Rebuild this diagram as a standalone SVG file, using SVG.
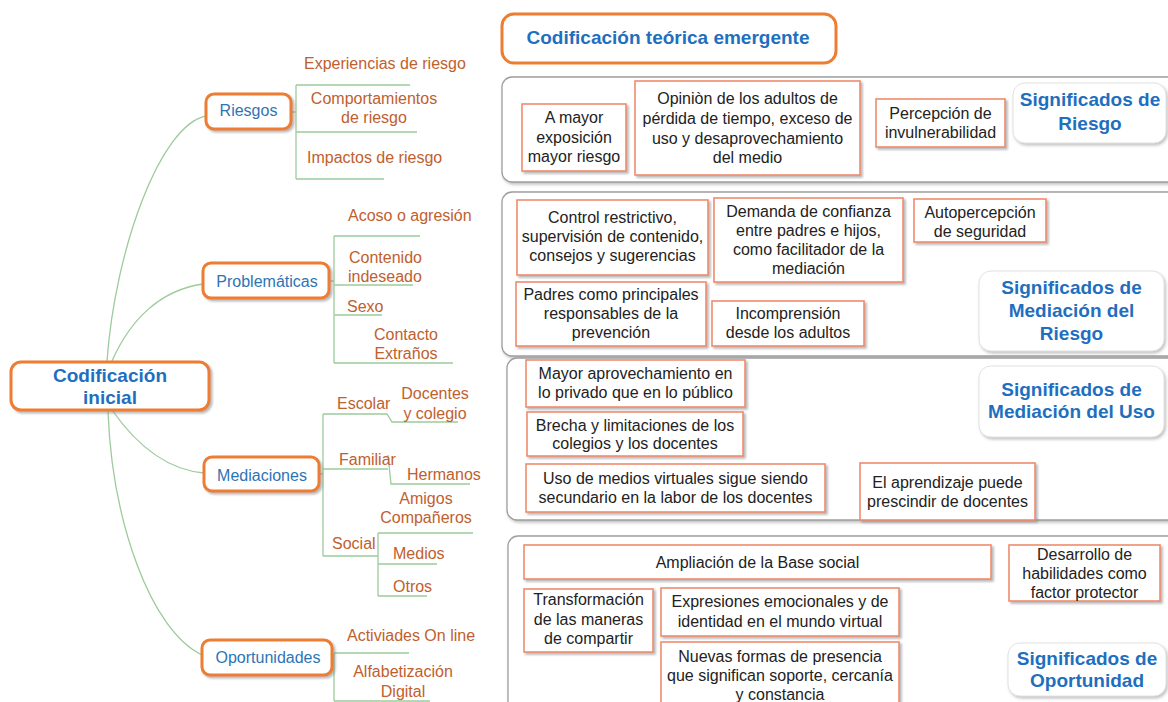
<svg xmlns="http://www.w3.org/2000/svg" width="1168" height="702" viewBox="0 0 1168 702">
<defs>
<filter id="sh" x="-10%" y="-10%" width="130%" height="140%">
<feDropShadow dx="2" dy="2" stdDeviation="1.2" flood-color="#808080" flood-opacity="0.55"/>
</filter>
<filter id="shs" x="-10%" y="-10%" width="130%" height="140%">
<feDropShadow dx="1.5" dy="2" stdDeviation="1.5" flood-color="#9a9a9a" flood-opacity="0.6"/>
</filter>
<style>
.node{fill:#fff;stroke:#ED7D31;stroke-width:3;}
.nlabel{font-family:"Liberation Sans",Arial,sans-serif;font-size:16px;fill:#2E74B5;text-anchor:middle;}
.big{font-family:"Liberation Sans",Arial,sans-serif;font-size:19px;font-weight:bold;fill:#1F6FBF;text-anchor:middle;}
.sub{font-family:"Liberation Sans",Arial,sans-serif;font-size:16px;fill:#C0602E;}
.mid{text-anchor:middle;}
.conn{fill:none;stroke:#9CCB9C;stroke-width:1.3;}
.panel{fill:#fff;stroke:#9E9E9E;stroke-width:1.3;}
.box{fill:#fff;stroke:#F08C6E;stroke-width:1.6;}
.head{fill:#fff;stroke:#E2E2E2;stroke-width:1;}
.t{font-family:"Liberation Sans",Arial,sans-serif;font-size:16px;fill:#222;text-anchor:middle;}
</style>
</defs>
<rect width="1168" height="702" fill="#fff"/>

<g id="connectors">
<path class="conn" d="M107,361 C115,250 160,125 206,116"/>
<path class="conn" d="M112,361 C130,320 160,290 203,284"/>
<path class="conn" d="M112,410 C140,450 170,470 204,473"/>
<path class="conn" d="M108,411 C112,520 150,630 202,655"/>
<path class="conn" d="M292,112 L296,112 M296,85 L296,179 M296,85 L410,85 M296,132 L417,132 M296,179 L384,179"/>
<path class="conn" d="M330,281 L334,281 M334,236 L334,363 M334,236 L420,236 M334,285 L413,285 M334,315 L382,315 M334,363 L453,363"/>
<path class="conn" d="M320,474 L323,474 M323,414 L323,556 M323,414 L387,414 L392,422 L458,422 M323,469 L388,469 M388,455 L391,484 L470,484 M323,556 L378,556 M378,533 L378,596 M378,533 L473,533 M378,564 L437,564 M378,596 L427,596"/>
<path class="conn" d="M332,657 L334,657 M334,653 L334,701 M334,653 L409,653 M334,701 L430,701"/>
</g>

<g id="codificacion-inicial">
<rect class="node" x="11" y="362" width="198" height="48" rx="10" filter="url(#sh)"/>
<text class="big" x="110" y="382">Codificación</text>
<text class="big" x="110" y="404">inicial</text>
</g>

<g id="riesgos">
<rect class="node" x="206" y="94" width="85" height="35" rx="8" filter="url(#sh)"/>
<text class="nlabel" x="248.5" y="116">Riesgos</text>
<text class="sub" x="304" y="69">Experiencias de riesgo</text>
<text class="sub mid" x="374" y="104">Comportamientos</text>
<text class="sub mid" x="374" y="123">de riesgo</text>
<text class="sub" x="307" y="163">Impactos de riesgo</text>
</g>

<g id="problematicas">
<rect class="node" x="203" y="263" width="126" height="35" rx="8" filter="url(#sh)"/>
<text class="nlabel" x="267" y="287">Problemáticas</text>
<text class="sub" x="348" y="221">Acoso o agresión</text>
<text class="sub" x="349" y="263">Contenido</text>
<text class="sub" x="348" y="282">indeseado</text>
<text class="sub" x="347" y="312">Sexo</text>
<text class="sub mid" x="406" y="340">Contacto</text>
<text class="sub mid" x="406" y="359">Extraños</text>
</g>

<g id="mediaciones">
<rect class="node" x="204" y="457" width="115" height="34" rx="8" filter="url(#sh)"/>
<text class="nlabel" x="262" y="481">Mediaciones</text>
<text class="sub" x="337" y="409">Escolar</text>
<text class="sub mid" x="435" y="399">Docentes</text>
<text class="sub mid" x="435" y="419">y colegio</text>
<text class="sub" x="339" y="465">Familiar</text>
<text class="sub" x="407" y="480">Hermanos</text>
<text class="sub mid" x="426" y="504">Amigos</text>
<text class="sub mid" x="426" y="523">Compañeros</text>
<text class="sub" x="332" y="549">Social</text>
<text class="sub" x="393" y="559">Medios</text>
<text class="sub" x="393" y="592">Otros</text>
</g>

<g id="oportunidades">
<rect class="node" x="202" y="640" width="130" height="35" rx="8" filter="url(#sh)"/>
<text class="nlabel" x="268" y="663">Oportunidades</text>
<text class="sub" x="347" y="641">Activiades On line</text>
<text class="sub mid" x="403" y="677">Alfabetización</text>
<text class="sub mid" x="403" y="697">Digital</text>
</g>

<g id="codificacion-teorica">
<rect class="node" x="502" y="14" width="334" height="49" rx="12"/>
<text class="big" x="668" y="44">Codificación teórica emergente</text>
</g>

<g id="panel-riesgo">
<rect class="panel" x="502" y="77" width="690" height="105" rx="10" filter="url(#shs)"/>
<rect class="box" x="522" y="104" width="104" height="67" filter="url(#sh)"/>
<text class="t" x="574" y="123">A mayor</text>
<text class="t" x="574" y="143">exposición</text>
<text class="t" x="574" y="162">mayor riesgo</text>
<rect class="box" x="635" y="81" width="225" height="94" filter="url(#sh)"/>
<text class="t" x="747.5" y="104">Opiniòn de los adultos de</text>
<text class="t" x="747.5" y="124">pérdida de tiempo, exceso de</text>
<text class="t" x="747.5" y="144">uso y desaprovechamiento</text>
<text class="t" x="747.5" y="163">del medio</text>
<rect class="box" x="876" y="99" width="129" height="48" filter="url(#sh)"/>
<text class="t" x="940.5" y="119">Percepción de</text>
<text class="t" x="940.5" y="138">invulnerabilidad</text>
<rect class="head" x="1013" y="83" width="153" height="60" rx="12" filter="url(#shs)"/>
<text class="big" x="1090" y="106">Significados de</text>
<text class="big" x="1090" y="130">Riesgo</text>
</g>

<g id="panel-mediacion-riesgo">
<rect class="panel" x="502" y="192" width="690" height="164" rx="10" filter="url(#shs)"/>
<rect class="box" x="517" y="200" width="191" height="75" filter="url(#sh)"/>
<text class="t" x="612.5" y="223">Control restrictivo,</text>
<text class="t" x="612.5" y="242">supervisión de contenido,</text>
<text class="t" x="612.5" y="261">consejos y sugerencias</text>
<rect class="box" x="714" y="198" width="189" height="84" filter="url(#sh)"/>
<text class="t" x="808.5" y="217">Demanda de confianza</text>
<text class="t" x="808.5" y="236">entre padres e hijos,</text>
<text class="t" x="808.5" y="255">como facilitador de la</text>
<text class="t" x="808.5" y="274">mediación</text>
<rect class="box" x="914" y="199" width="132" height="43" filter="url(#sh)"/>
<text class="t" x="980" y="218">Autopercepción</text>
<text class="t" x="980" y="237">de seguridad</text>
<rect class="box" x="516" y="282" width="190" height="64" filter="url(#sh)"/>
<text class="t" x="611" y="300">Padres como principales</text>
<text class="t" x="611" y="319">responsables de la</text>
<text class="t" x="611" y="338">prevención</text>
<rect class="box" x="712" y="301" width="152" height="45" filter="url(#sh)"/>
<text class="t" x="788" y="319">Incomprensión</text>
<text class="t" x="788" y="338">desde los adultos</text>
<rect class="head" x="979" y="271" width="185" height="80" rx="12" filter="url(#shs)"/>
<text class="big" x="1071.5" y="294">Significados de</text>
<text class="big" x="1071.5" y="317">Mediación del</text>
<text class="big" x="1071.5" y="340">Riesgo</text>
</g>

<g id="panel-mediacion-uso">
<rect class="panel" x="507" y="358" width="685" height="162" rx="10" filter="url(#shs)"/>
<rect class="box" x="526" y="360" width="219" height="47" filter="url(#sh)"/>
<text class="t" x="635.5" y="379">Mayor aprovechamiento en</text>
<text class="t" x="635.5" y="398">lo privado que en lo público</text>
<rect class="box" x="527" y="412" width="216" height="44" filter="url(#sh)"/>
<text class="t" x="635" y="431">Brecha y limitaciones de los</text>
<text class="t" x="635" y="449">colegios y los docentes</text>
<rect class="box" x="526" y="464" width="299" height="48" filter="url(#sh)"/>
<text class="t" x="675.5" y="484">Uso de medios virtuales sigue siendo</text>
<text class="t" x="675.5" y="503">secundario en la labor de los docentes</text>
<rect class="box" x="860" y="463" width="175" height="57" filter="url(#sh)"/>
<text class="t" x="947.5" y="488">El aprendizaje puede</text>
<text class="t" x="947.5" y="507">prescindir de docentes</text>
<rect class="head" x="979" y="366" width="185" height="71" rx="12" filter="url(#shs)"/>
<text class="big" x="1071.5" y="396">Significados de</text>
<text class="big" x="1071.5" y="418">Mediación del Uso</text>
</g>

<g id="panel-oportunidad">
<rect class="panel" x="508" y="536" width="684" height="190" rx="10" filter="url(#shs)"/>
<rect class="box" x="524" y="545" width="467" height="34" filter="url(#sh)"/>
<text class="t" x="757.5" y="568">Ampliación de la Base social</text>
<rect class="box" x="1009" y="545" width="151" height="56" filter="url(#sh)"/>
<text class="t" x="1084.5" y="560">Desarrollo de</text>
<text class="t" x="1084.5" y="579">habilidades como</text>
<text class="t" x="1084.5" y="598">factor protector</text>
<rect class="box" x="524" y="589" width="129" height="63" filter="url(#sh)"/>
<text class="t" x="588.5" y="605">Transformación</text>
<text class="t" x="588.5" y="625">de las maneras</text>
<text class="t" x="588.5" y="644">de compartir</text>
<rect class="box" x="661" y="588" width="238" height="48" filter="url(#sh)"/>
<text class="t" x="780" y="607">Expresiones emocionales y de</text>
<text class="t" x="780" y="627">identidad en el mundo  virtual</text>
<rect class="box" x="661" y="642" width="238" height="70" filter="url(#sh)"/>
<text class="t" x="780" y="662">Nuevas formas de presencia</text>
<text class="t" x="780" y="681">que significan soporte, cercanía</text>
<text class="t" x="780" y="700">y constancia</text>
<rect class="head" x="1008" y="643" width="158" height="53" rx="12" filter="url(#shs)"/>
<text class="big" x="1087" y="665">Significados de</text>
<text class="big" x="1087" y="687">Oportunidad</text>
</g>
</svg>
